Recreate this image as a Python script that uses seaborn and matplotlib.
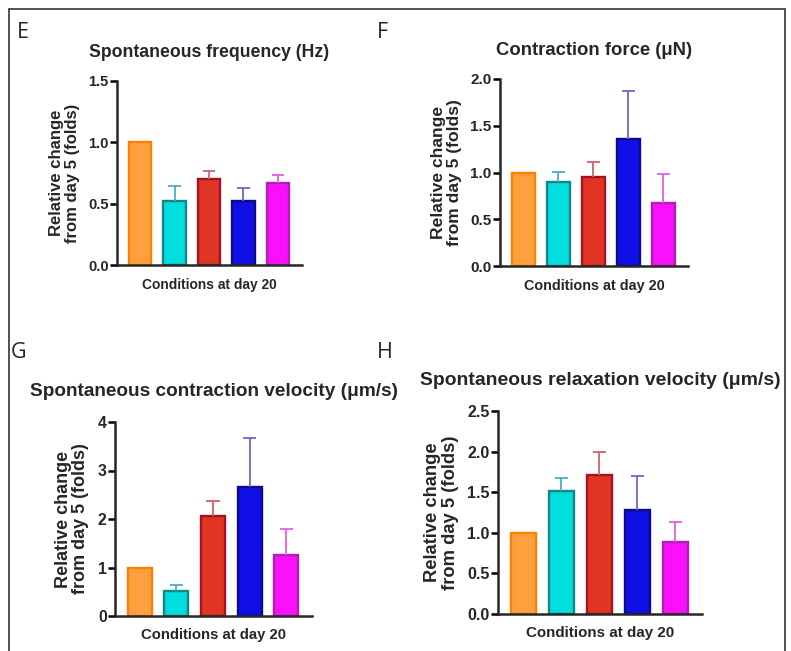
import matplotlib
matplotlib.use("Agg")
import matplotlib.pyplot as plt
import numpy as np
import seaborn as sns
from matplotlib.patches import Rectangle

# five culture conditions, day 20 (no tick labels in the original)
conditions = ["c1", "c2", "c3", "c4", "c5"]

freq_mean = [1.0, 0.52, 0.70, 0.52, 0.665]
freq_err = [0.0, 0.12, 0.065, 0.11, 0.068]

force_mean = [1.0, 0.90, 0.95, 1.36, 0.675]
force_err = [0.0, 0.11, 0.165, 0.51, 0.31]

cvel_mean = [1.0, 0.51, 2.06, 2.67, 1.25]
cvel_err = [0.0, 0.125, 0.32, 1.0, 0.54]

rvel_mean = [1.0, 1.52, 1.71, 1.285, 0.885]
rvel_err = [0.0, 0.155, 0.28, 0.415, 0.25]

fills = ["#FFA040", "#00DEDE", "#E03522", "#1010E6", "#FA10FA"]
edges = ["#FF8000", "#158585", "#A51025", "#0A0A8A", "#B020B0"]
err_colors = ["#FF8000", "#45B0C0", "#D06070", "#6868D0", "#E060E0"]

sns.set_style("ticks")
plt.rcParams["font.family"] = ["Liberation Sans", "DejaVu Sans"]
plt.rcParams["font.weight"] = "bold"

W, H = 791, 651
fig = plt.figure(figsize=(W / 100, H / 100), dpi=100)


def px_axes(l, r, t, b):
    return fig.add_axes([l / W, 1 - b / H, (r - l) / W, (b - t) / H])


def make_panel(ax, means, errs, title, ymax, step, fmt, s, tpad):
    # s: size factor, the four panels were pasted at slightly different scales
    sns.barplot(x=conditions, y=means, hue=conditions, palette=fills,
                saturation=1, legend=False, width=0.65, linewidth=1.7, ax=ax)
    bars = sorted(ax.patches, key=lambda p: p.get_x())
    for bar, ec in zip(bars, edges):
        bar.set_edgecolor(ec)
    x = np.arange(len(conditions))
    tops = np.array(means) + np.array(errs)
    for i in range(1, len(conditions)):
        ax.vlines(x[i], means[i], tops[i], color=err_colors[i], lw=1.3, zorder=1)
        ax.hlines(tops[i], x[i] - 0.18, x[i] + 0.18, color=err_colors[i], lw=1.3, zorder=1)
    ax.set_xlim(-0.67, 4.7)
    ax.set_ylim(0, ymax)
    ticks = np.arange(0, ymax + step / 2, step)
    ax.set_yticks(ticks)
    ax.set_yticklabels([fmt.format(t) for t in ticks], fontsize=10.5 * s, fontweight="bold")
    ax.set_xticks([])
    ax.set_xlabel("Conditions at day 20", fontsize=9.9 * s, fontweight="bold", labelpad=9)
    ax.set_ylabel("Relative change\nfrom day 5 (folds)", fontsize=12.0 * s,
                  fontweight="bold", labelpad=6, linespacing=1.05)
    ax.set_title(title, fontsize=12.7 * s, fontweight="bold", pad=tpad)
    sns.despine(ax=ax)
    ax.spines["left"].set_linewidth(1.8)
    ax.spines["bottom"].set_linewidth(1.8)
    ax.tick_params(axis="y", width=1.8, length=5, color="black", pad=1)
    ax.patch.set_alpha(0)


ax_e = px_axes(117, 302, 81, 265)
make_panel(ax_e, freq_mean, freq_err, "Spontaneous frequency (Hz)", 1.5, 0.5, "{:.1f}", 1.0, 17)
ax_f = px_axes(500, 688, 79, 266)
make_panel(ax_f, force_mean, force_err, "Contraction force (μN)", 2.0, 0.5, "{:.1f}", 1.05, 17)
ax_g = px_axes(115, 312, 422, 616)
make_panel(ax_g, cvel_mean, cvel_err, "Spontaneous contraction velocity (μm/s)", 4, 1, "{:.0f}", 1.08, 18.5)
ax_h = px_axes(498, 702, 411, 614)
make_panel(ax_h, rvel_mean, rvel_err, "Spontaneous relaxation velocity (μm/s)", 2.5, 0.5, "{:.1f}", 1.1, 18.5)

# panel letters
for letter, lx, ly in [("E", 17, 32), ("F", 377, 32), ("G", 11, 353), ("H", 377, 353)]:
    fig.text(lx / W, 1 - ly / H, letter, fontsize=15.5, fontweight="normal",
             family="Open Sans", va="center", ha="left")

# outer frame (runs off the bottom edge)
fig.patches.append(Rectangle((9 / W, -0.05), (785 - 9) / W, 1 - 9 / H + 0.05,
                             transform=fig.transFigure, fill=False,
                             edgecolor="#333333", lw=1.2))

fig.savefig("out.png", dpi=100)
